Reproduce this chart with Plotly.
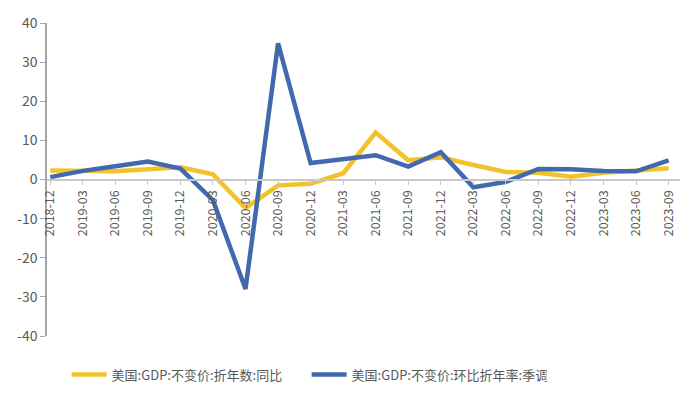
import plotly.graph_objects as go

quarters = ["2018-12", "2019-03", "2019-06", "2019-09", "2019-12", "2020-03", "2020-06",
            "2020-09", "2020-12", "2021-03", "2021-06", "2021-09", "2021-12", "2022-03",
            "2022-06", "2022-09", "2022-12", "2023-03", "2023-06", "2023-09"]
yoy = [2.3, 2.2, 2.1, 2.6, 3.1, 1.3, -7.3, -1.5, -1.1, 1.6, 12.0, 4.9, 5.7, 3.7,
       1.9, 1.7, 0.7, 1.7, 2.4, 2.9]
qoq = [0.6, 2.2, 3.4, 4.6, 2.8, -5.3, -28.0, 34.8, 4.2, 5.2, 6.2, 3.3, 7.0, -2.0,
       -0.6, 2.7, 2.6, 2.2, 2.1, 4.9]
name_yoy = "美国:GDP:不变价:折年数:同比"
name_qoq = "美国:GDP:不变价:环比折年率:季调"
y_ticks = [-40, -30, -20, -10, 0, 10, 20, 30, 40]
y_ticktext = ["-40", "-30", "-20", "-10", "0", "10", "20", "30", "40"]

FONT = "Noto Sans CJK SC"
GRAY = "#595959"

fig = go.Figure()
fig.add_trace(go.Scatter(x=quarters, y=yoy, name=name_yoy, mode="lines",
                         line=dict(color="#F2C22A", width=4.5)))
fig.add_trace(go.Scatter(x=quarters, y=qoq, name=name_qoq, mode="lines",
                         line=dict(color="#4268AE", width=4.5)))

fig.update_layout(
    width=700, height=401,
    margin=dict(l=47, r=20, t=21, b=64),
    paper_bgcolor="white", plot_bgcolor="white",
    font=dict(family=FONT, color=GRAY, size=12),
    showlegend=True,
    legend=dict(orientation="h", x=0.031, xanchor="left", y=-0.075, yanchor="top",
                font=dict(family=FONT, size=13, color=GRAY),
                itemwidth=35, entrywidth=190, tracegroupgap=0),
    xaxis=dict(type="category", range=[-0.1, 19.35], anchor="free", position=0.5,
               showline=True, linecolor="#C8C8C8", linewidth=1.5,
               ticks="outside", ticklen=5, tickcolor="#C8C8C8",
               tickangle=-90, tickfont=dict(size=12.5, color=GRAY, family=FONT),
               showgrid=False, zeroline=False),
    yaxis=dict(range=[-40, 40], tickvals=y_ticks, ticktext=y_ticktext,
               showline=True, linecolor="#A6A6A6",
               linewidth=1.5, ticks="outside", ticklen=5, tickcolor="#A6A6A6",
               tickfont=dict(size=14, color=GRAY, family=FONT),
               showgrid=False, zeroline=False),
)

fig.write_html("out.html")
